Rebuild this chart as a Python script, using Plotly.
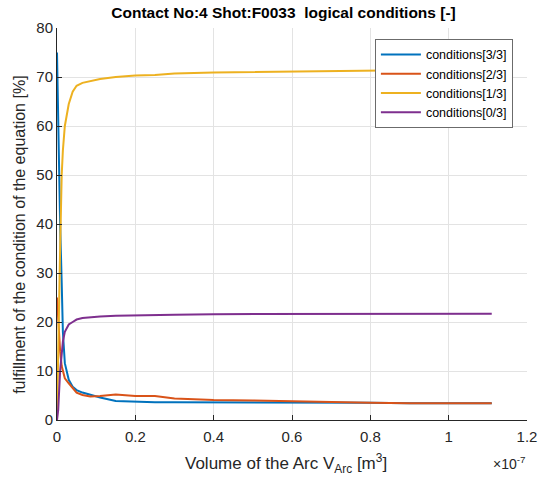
import plotly.graph_objects as go

# x in units of 1e-7 m^3
vol_arc = [0, 0.003, 0.008, 0.012, 0.015, 0.02, 0.03, 0.04, 0.05, 0.065, 0.085, 0.11,
           0.15, 0.2, 0.25, 0.3, 0.4, 0.5, 0.6, 0.7, 0.8, 0.9, 1.0, 1.11]
cond_3_3 = [75, 60, 40, 28, 18, 11.6, 8.2, 6.8, 6.1, 5.6, 5.1, 4.6,
            3.9, 3.7, 3.6, 3.6, 3.6, 3.6, 3.6, 3.5, 3.5, 3.4, 3.4, 3.4]
cond_2_3 = [25, 20, 14, 11, 10, 8.5, 7.5, 6.5, 5.6, 5.1, 4.8, 4.9,
            5.2, 4.9, 4.9, 4.4, 4.1, 4.0, 3.8, 3.6, 3.5, 3.4, 3.4, 3.4]
cond_1_3 = [0, 15, 35, 50, 55, 60, 64.5, 67, 68.2, 68.8, 69.2, 69.6,
            70.0, 70.3, 70.4, 70.7, 70.9, 71.0, 71.1, 71.3, 71.4, 71.5, 71.5, 71.6]
cond_0_3 = [0, 2, 10, 14, 16, 18, 19.5, 20, 20.5, 20.8, 21, 21.1,
            21.3, 21.4, 21.4, 21.5, 21.6, 21.6, 21.7, 21.7, 21.7, 21.7, 21.7, 21.7]

series = [
    ("conditions[3/3]", cond_3_3, "#0072BD"),
    ("conditions[2/3]", cond_2_3, "#D95319"),
    ("conditions[1/3]", cond_1_3, "#EDB120"),
    ("conditions[0/3]", cond_0_3, "#7E2F8E"),
]

fig = go.Figure()
for name, ys, col in series:
    fig.add_trace(go.Scatter(x=vol_arc, y=ys, mode="lines", name=name,
                             line=dict(color=col, width=2)))

font_fam = "Liberation Sans, Arial, sans-serif"
axis_common = dict(
    showgrid=True, gridcolor="#e3e3e3", gridwidth=1,
    showline=True, linecolor="#262626", linewidth=1,
    ticks="inside", ticklen=5, tickcolor="#262626",
    tickfont=dict(family=font_fam, size=15, color="#262626"),
    zeroline=False, mirror=False, automargin=False,
)

fig.update_layout(
    width=538, height=483,
    margin=dict(l=57, r=11, t=28, b=63),
    paper_bgcolor="white", plot_bgcolor="white",
    title=dict(text="<b>Contact No:4 Shot:F0033  logical conditions [-]</b>",
               x=0.527, xanchor="center", y=0.973, yanchor="middle",
               font=dict(family=font_fam, size=15.5, color="black")),
    xaxis=dict(range=[0, 1.2], tickvals=[0, 0.2, 0.4, 0.6, 0.8, 1, 1.2],
               ticktext=["0", "0.2", "0.4", "0.6", "0.8", "1", "1.2"],
               ticklabelstandoff=3,
               **axis_common),
    yaxis=dict(range=[0, 80], tickvals=list(range(0, 81, 10)),
               **axis_common),
    legend=dict(x=0.97, y=0.972, xanchor="right", yanchor="top",
                bgcolor="white", bordercolor="#6b6b6b", borderwidth=1,
                font=dict(family=font_fam, size=12.5, color="black"),
                tracegroupgap=0, itemwidth=40),
    showlegend=True,
)

fig.add_annotation(text="Volume of the Arc V<sub>Arc</sub> [m<sup>3</sup>]",
                   xref="paper", yref="paper", x=0.487, y=-0.11,
                   xanchor="center", yanchor="middle", showarrow=False,
                   font=dict(family=font_fam, size=17, color="#262626"))
fig.add_annotation(text="fulfillment of the condition of the equation [%]",
                   xref="paper", yref="paper", x=-0.079, y=0.472, textangle=-90,
                   xanchor="center", yanchor="middle", showarrow=False,
                   font=dict(family=font_fam, size=16, color="#262626"))
fig.add_annotation(text="×10<sup>-7</sup>", xref="paper", yref="paper",
                   x=1.0, y=-0.11, xanchor="right", yanchor="middle", showarrow=False,
                   font=dict(family=font_fam, size=14, color="#262626"))

# remove the default 8px page margin so the figure fills the window exactly
fig.write_html("out.html", config={"displayModeBar": False},
               post_script="document.body.style.margin='0';document.body.style.overflow='hidden';")
